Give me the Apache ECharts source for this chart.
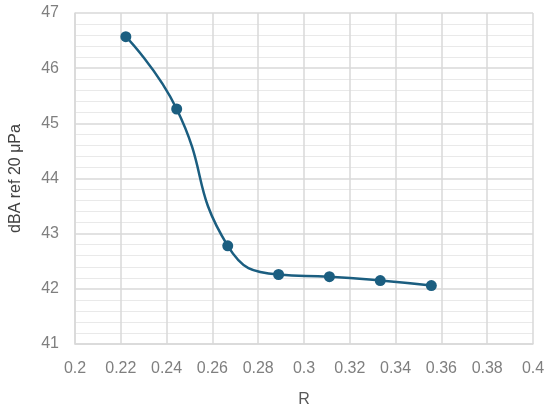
<!DOCTYPE html>
<html>
<head>
<meta charset="utf-8">
<script src="https://cdn.jsdelivr.net/npm/echarts@6/dist/echarts.min.js"></script>
<style>
  html, body { margin: 0; padding: 0; background: #fff; }
  #main { width: 550px; height: 413px; }
</style>
</head>
<body>
<div id="main"></div>
<script>
// values
var rValues = [0.2222, 0.2444, 0.2667, 0.2889, 0.3111, 0.3333, 0.3556];
var dbaValues = [46.57, 45.26, 42.78, 42.26, 42.22, 42.15, 42.06];

var xName = "R";
var yName = "dBA ref 20 μPa";

var points = rValues.map(function (r, i) {
  return [r, dbaValues[i]];
});

var lineColor = "#1b5e80";
var gridColor = "#d9d9d9";
var labelColor = "#7f7f7f";
var font = "Liberation Sans";

var myChart = echarts.init(document.getElementById("main"));
var option = {
  animation: false,
  grid: {
    left: 74,
    right: 17,
    top: 13,
    bottom: 65,
  },
  xAxis: {
    type: "value",
    min: 0.2,
    max: 0.4,
    interval: 0.02,
    name: xName,
    nameLocation: "middle",
    nameGap: 48,
    nameTextStyle: { color: "#595959", fontSize: 16, fontFamily: font },
    axisLine: { show: true, lineStyle: { color: gridColor, width: 1.5 } },
    axisTick: { show: false },
    axisLabel: {
      color: labelColor,
      fontSize: 16,
      fontFamily: font,
      margin: 17,
      formatter: function (v) {
        return String(Math.round(v * 100) / 100);
      },
    },
    splitLine: { show: true, lineStyle: { color: gridColor, width: 1.5 } },
  },
  yAxis: {
    type: "value",
    min: 41,
    max: 47,
    interval: 1,
    name: yName,
    nameLocation: "middle",
    nameGap: 51,
    nameTextStyle: { color: "#404040", fontSize: 16, fontFamily: font },
    axisLine: { show: true, lineStyle: { color: gridColor, width: 1.5 } },
    axisTick: { show: false },
    axisLabel: {
      color: labelColor,
      fontSize: 16,
      fontFamily: font,
      margin: 16,
    },
    splitLine: { show: true, lineStyle: { color: gridColor, width: 1.5 } },
    minorTick: { show: false, splitNumber: 5 },
    minorSplitLine: { show: true, lineStyle: { color: "#e9e9e9", width: 1 } },
  },
  series: [
    {
      type: "line",
      data: points,
      smooth: 0.5,
      symbol: "circle",
      symbolSize: 11,
      itemStyle: { color: lineColor },
      lineStyle: { color: lineColor, width: 2.5 },
    },
  ],
};
myChart.setOption(option);
</script>
</body>
</html>
